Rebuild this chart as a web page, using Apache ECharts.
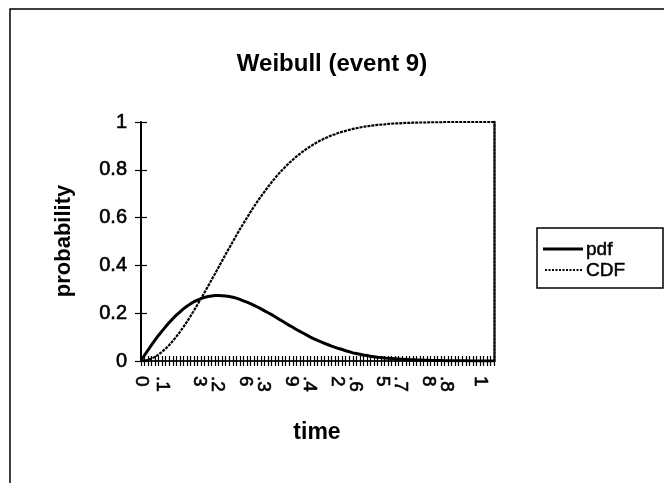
<!DOCTYPE html>
<html>
<head>
<meta charset="utf-8">
<title>Weibull (event 9)</title>
<script src="https://cdn.jsdelivr.net/npm/echarts@6/dist/echarts.min.js"></script>
<style>
  html, body { margin: 0; padding: 0; background: #fff; }
  #chart { width: 664px; height: 483px; }
</style>
</head>
<body>
<div id="chart"></div>
<script>
// time steps of the event
const time = [
  0, 0.05, 0.06, 0.07, 0.08, 0.09, 0.1, 0.11, 0.12, 0.13,
  0.14, 0.15, 0.16, 0.17, 0.18, 0.19, 0.2, 0.21, 0.22, 0.23,
  0.24, 0.25, 0.26, 0.27, 0.28, 0.29, 0.3, 0.31, 0.32, 0.33,
  0.34, 0.35, 0.36, 0.37, 0.38, 0.39, 0.4, 0.41, 0.42, 0.43,
  0.44, 0.45, 0.46, 0.47, 0.48, 0.49, 0.5, 0.51, 0.52, 0.53,
  0.54, 0.55, 0.56, 0.57, 0.58, 0.59, 0.6, 0.61, 0.62, 0.63,
  0.64, 0.65, 0.66, 0.67, 0.68, 0.69, 0.7, 0.71, 0.72, 0.73,
  0.74, 0.75, 0.76, 0.77, 0.78, 0.79, 0.8, 0.81, 0.82, 0.83,
  0.84, 0.85, 0.86, 0.87, 0.88, 0.89, 0.9, 0.91, 0.92, 0.93,
  0.94, 0.95, 0.96, 0.97, 0.98, 0.99, 1, 1.01, 1.02, 1.03,
  1.04
];

// probability density
const pdf = [
  0, 0.024, 0.046, 0.067, 0.088, 0.108, 0.126, 0.144, 0.161, 0.177,
  0.192, 0.205, 0.218, 0.229, 0.239, 0.248, 0.255, 0.261, 0.266, 0.270,
  0.272, 0.274, 0.274, 0.273, 0.272, 0.270, 0.267, 0.263, 0.258, 0.252,
  0.246, 0.240, 0.233, 0.226, 0.218, 0.210, 0.202, 0.194, 0.185, 0.176,
  0.167, 0.158, 0.149, 0.141, 0.132, 0.124, 0.116, 0.108, 0.100, 0.093,
  0.086, 0.080, 0.074, 0.068, 0.062, 0.057, 0.052, 0.048, 0.043, 0.039,
  0.034, 0.031, 0.028, 0.025, 0.023, 0.020, 0.018, 0.016, 0.015, 0.013,
  0.011, 0.010, 0.009, 0.008, 0.007, 0.006, 0.005, 0.005, 0.004, 0.004,
  0.003, 0.003, 0.002, 0.002, 0.002, 0.002, 0.001, 0.001, 0.001, 0.001,
  0.001, 0.001, 0.001, 0, 0, 0, 0, 0, 0, 0,
  0
];

// cumulative distribution
const cdf = [
  0, 0.001, 0.005, 0.010, 0.018, 0.027, 0.039, 0.052, 0.067, 0.084,
  0.102, 0.121, 0.142, 0.164, 0.187, 0.211, 0.236, 0.261, 0.287, 0.313,
  0.340, 0.366, 0.393, 0.420, 0.447, 0.473, 0.499, 0.525, 0.551, 0.575,
  0.599, 0.623, 0.646, 0.668, 0.689, 0.709, 0.729, 0.748, 0.766, 0.783,
  0.799, 0.814, 0.829, 0.842, 0.855, 0.867, 0.878, 0.889, 0.898, 0.908,
  0.916, 0.924, 0.931, 0.938, 0.944, 0.949, 0.955, 0.959, 0.963, 0.967,
  0.971, 0.974, 0.977, 0.980, 0.982, 0.984, 0.986, 0.988, 0.989, 0.990,
  0.992, 0.993, 0.994, 0.994, 0.995, 0.996, 0.996, 0.997, 0.997, 0.998,
  0.998, 0.998, 0.999, 0.999, 0.999, 0.999, 1, 1, 1, 1,
  1, 1, 1, 1, 1, 1, 1, 1, 1, 1,
  1
];

// time values that carry a label on the axis
const labelledTimes = [0, 0.1, 0.23, 0.36, 0.49, 0.62, 0.75, 0.88, 1];
const yTicks = [0, 0.2, 0.4, 0.6, 0.8, 1];
const seriesNames = ['pdf', 'CDF'];

const FONT = '"Liberation Sans", Arial, Helvetica, sans-serif';
// a thin outline in the text colour gives the heavier print look
const INK = { textBorderColor: '#000', textBorderWidth: 0.6 };

function timeLabel(value) {
  let s = String(value).replace(/^0\./, '.');
  if (s.length > 2) s = s.slice(0, 2) + '\n' + s.slice(2);
  return s;
}

const pdfLine = { color: '#000', width: 3 };
const cdfLine = { color: '#000', width: 2.2, type: [3, 1] };

const chart = echarts.init(document.getElementById('chart'), null, { renderer: 'canvas' });

chart.setOption({
  backgroundColor: '#fff',
  animation: false,
  title: {
    text: 'Weibull (event 9)',
    left: 'center',
    top: 47,
    textStyle: { fontFamily: FONT, fontSize: 24, fontWeight: 'bold', color: '#000' }
  },
  grid: { left: 141, right: 170, top: 122, bottom: 122 },
  xAxis: [
    {
      type: 'category',
      data: time,
      boundaryGap: false,
      position: 'bottom',
      axisLine: { lineStyle: { color: '#000', width: 1.5 } },
      axisTick: { show: true, interval: 0, length: 5, lineStyle: { color: '#000', width: 1.2 } },
      axisLabel: Object.assign({
        interval: function (index, value) { return labelledTimes.indexOf(Number(value)) >= 0; },
        formatter: timeLabel,
        rotate: -90,
        margin: 15,
        fontFamily: FONT,
        fontSize: 19,
        lineHeight: 18,
        color: '#000'
      }, INK),
      splitLine: { show: false }
    },
    {
      type: 'category',
      data: time,
      boundaryGap: false,
      position: 'bottom',
      axisLine: { show: false },
      axisTick: { show: true, inside: true, interval: 0, length: 5, lineStyle: { color: '#000', width: 1.2 } },
      axisLabel: { show: false },
      splitLine: { show: false }
    },
    {
      type: 'category',
      data: time,
      boundaryGap: false,
      position: 'top',
      axisLine: { lineStyle: { color: '#222', width: 2, type: [2, 1] } },
      axisTick: { show: false },
      axisLabel: { show: false },
      splitLine: { show: false }
    }
  ],
  yAxis: [
    {
      type: 'value',
      min: yTicks[0],
      max: yTicks[yTicks.length - 1],
      interval: 0.2,
      position: 'left',
      axisLine: { show: true, lineStyle: { color: '#000', width: 2 } },
      axisTick: { show: true, length: 6, lineStyle: { color: '#000', width: 1.2 } },
      axisLabel: Object.assign({ margin: 14, fontFamily: FONT, fontSize: 20, color: '#000' }, INK),
      splitLine: { show: false }
    },
    {
      type: 'value',
      min: yTicks[0],
      max: yTicks[yTicks.length - 1],
      interval: 0.2,
      position: 'left',
      offset: 0,
      axisLine: { show: false },
      axisTick: { show: true, inside: true, length: 6, lineStyle: { color: '#000', width: 1.2 } },
      axisLabel: { show: false },
      splitLine: { show: false }
    },
    {
      type: 'value',
      min: 0,
      max: 1,
      position: 'right',
      axisLine: { show: true, lineStyle: { color: '#111', width: 2.5, type: [2, 1.5] } },
      axisTick: { show: false },
      axisLabel: { show: false },
      splitLine: { show: false }
    }
  ],
  series: [
    {
      name: seriesNames[0],
      type: 'line',
      data: pdf,
      xAxisIndex: 0,
      yAxisIndex: 0,
      showSymbol: false,
      symbol: 'none',
      lineStyle: pdfLine,
      z: 3
    },
    {
      name: seriesNames[1],
      type: 'line',
      data: cdf,
      xAxisIndex: 0,
      yAxisIndex: 0,
      showSymbol: false,
      symbol: 'none',
      lineStyle: cdfLine,
      z: 2
    }
  ],
  graphic: [
    // chart area frame
    {
      type: 'rect',
      shape: { x: 10, y: 9, width: 720, height: 520 },
      style: { fill: 'none', stroke: '#000', lineWidth: 1.5 },
      silent: true
    },
    // legend frame and entries
    {
      type: 'rect',
      shape: { x: 537, y: 228, width: 126, height: 60 },
      style: { fill: 'none', stroke: '#000', lineWidth: 1.5 },
      silent: true
    },
    {
      type: 'line',
      shape: { x1: 543, y1: 249, x2: 583, y2: 249 },
      style: { stroke: pdfLine.color, lineWidth: pdfLine.width },
      silent: true
    },
    {
      type: 'line',
      shape: { x1: 545, y1: 270, x2: 583, y2: 270 },
      style: { stroke: cdfLine.color, lineWidth: 1.8, lineDash: [2, 1.5] },
      silent: true
    },
    {
      type: 'text',
      x: 586,
      y: 250,
      style: {
        text: seriesNames[0], fontFamily: FONT, fontSize: 19, fill: '#000',
        stroke: '#000', lineWidth: 0.5, align: 'left', verticalAlign: 'middle'
      },
      silent: true
    },
    {
      type: 'text',
      x: 586,
      y: 271,
      style: {
        text: seriesNames[1], fontFamily: FONT, fontSize: 19, fill: '#000',
        stroke: '#000', lineWidth: 0.5, align: 'left', verticalAlign: 'middle'
      },
      silent: true
    },
    // axis titles
    {
      type: 'text',
      x: 64,
      y: 241,
      rotation: Math.PI / 2,
      style: {
        text: 'probability',
        fontFamily: FONT,
        fontSize: 22,
        fontWeight: 'bold',
        fill: '#000',
        align: 'center',
        verticalAlign: 'middle'
      },
      silent: true
    },
    {
      type: 'text',
      x: 317,
      y: 433,
      style: {
        text: 'time',
        fontFamily: FONT,
        fontSize: 23,
        fontWeight: 'bold',
        fill: '#000',
        align: 'center',
        verticalAlign: 'middle'
      },
      silent: true
    }
  ]
});
</script>
</body>
</html>
